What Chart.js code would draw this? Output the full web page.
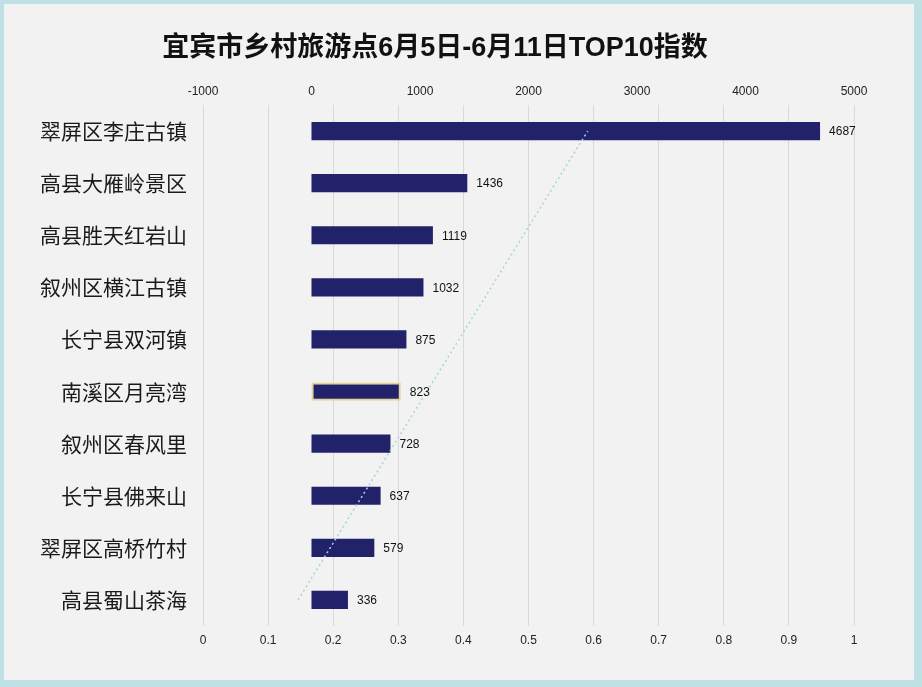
<!DOCTYPE html>
<html>
<head>
<meta charset="utf-8">
<script src="https://cdn.jsdelivr.net/npm/chart.js@4/dist/chart.umd.min.js"></script>
<style>
html,body{margin:0;padding:0;background:#f2f2f2;}
canvas{display:block;}
</style>
</head>
<body>
<canvas id="c" width="922" height="687" style="width:922px;height:687px"></canvas>
<script>
const titleText = '宜宾市乡村旅游点6月5日-6月11日TOP10指数';
const categories = ['翠屏区李庄古镇','高县大雁岭景区','高县胜天红岩山','叙州区横江古镇','长宁县双河镇','南溪区月亮湾','叙州区春风里','长宁县佛来山','翠屏区高桥竹村','高县蜀山茶海'];
const values = [4687,1436,1119,1032,875,823,728,637,579,336];
const trendCats = ['高县蜀山茶海','翠屏区李庄古镇'];
const trendX = [0.146, 0.591];

const bgPlugin = {
  id:'bg',
  beforeDraw(chart){
    const ctx = chart.ctx;
    ctx.save();
    ctx.fillStyle = '#bfe0e4';
    ctx.fillRect(0,0,chart.width,chart.height);
    ctx.fillStyle = '#f2f2f2';
    ctx.fillRect(4,4,chart.width-12,chart.height-11);
    ctx.restore();
  }
};
const titlePlugin = {
  id:'ttl',
  afterDraw(chart){
    const ctx = chart.ctx;
    ctx.save();
    ctx.font = 'bold 27px "Liberation Sans", "Noto Sans CJK SC", sans-serif';
    ctx.fillStyle = '#111';
    ctx.textAlign = 'center';
    ctx.textBaseline = 'middle';
    ctx.fillText(titleText, 435, 49);
    ctx.restore();
  }
};
const labelPlugin = {
  id:'vals',
  afterDatasetsDraw(chart){
    const ctx = chart.ctx;
    const meta = chart.getDatasetMeta(0);
    ctx.save();
    ctx.font = '12px "Liberation Sans", Arial, sans-serif';
    ctx.fillStyle = '#111';
    ctx.textAlign = 'left';
    ctx.textBaseline = 'middle';
    meta.data.forEach((bar,i)=>{
      ctx.fillText(String(values[i]), bar.x + 9, bar.y + 1);
    });
    ctx.restore();
  }
};

const borderCols = values.map((v,i)=> i===5 ? '#e8d48e' : '#22226b');
const borderWs = values.map((v,i)=> i===5 ? 2 : 0);

new Chart(document.getElementById('c'), {
  type:'bar',
  data:{
    labels: categories,
    datasets:[
      {
        type:'bar',
        data: values,
        xAxisID:'x',
        yAxisID:'y',
        backgroundColor:'#22226b',
        borderColor: borderCols,
        borderWidth: borderWs,
        borderSkipped: false,
        categoryPercentage: 1,
        barPercentage: 0.35,
        order: 1
      },
      {
        type:'line',
        indexAxis:'y',
        data: trendCats.map((c,i)=>({x: trendX[i], y: c})),
        xAxisID:'x2',
        yAxisID:'y',
        borderColor:'#a3d6de',
        borderWidth:1.5,
        borderDash:[2,3],
        pointRadius:0,
        fill:false,
        tension:0,
        order: 0
      }
    ]
  },
  options:{
    indexAxis:'y',
    responsive:false,
    animation:false,
    layout:{padding:{top:70,right:68,bottom:30,left:0}},
    plugins:{legend:{display:false},tooltip:{enabled:false},title:{display:false}},
    scales:{
      x:{
        type:'linear',position:'top',min:-1000,max:5000,
        grid:{display:false,drawTicks:false},
        border:{display:false},
        ticks:{stepSize:1000,padding:6,color:'#222',font:{size:12,family:'"Liberation Sans", Arial, sans-serif'},maxRotation:0,
          callback:(v)=>String(Math.round(v))},
        afterFit(s){ s.height = 35; s.paddingLeft = 0; s.paddingRight = 0; }
      },
      x2:{
        type:'linear',position:'bottom',min:0,max:1,
        grid:{display:true,color:'#d9d9d9',drawTicks:false,lineWidth:1},
        border:{display:false},
        ticks:{stepSize:0.1,padding:7,color:'#222',font:{size:12,family:'"Liberation Sans", Arial, sans-serif'},maxRotation:0,
          callback:(v)=>String(Number(v.toFixed(1)))},
        afterFit(s){ s.height = 31; s.paddingLeft = 0; s.paddingRight = 0; }
      },
      y:{
        type:'category',
        grid:{display:false,drawTicks:false},
        border:{display:false},
        ticks:{autoSkip:false,padding:16,color:'#1a1a1a',font:{size:21,family:'"Noto Sans CJK SC", sans-serif'}},
        afterFit(s){ s.width = 203; }
      }
    }
  },
  plugins:[bgPlugin,titlePlugin,labelPlugin]
});
</script>
</body>
</html>
